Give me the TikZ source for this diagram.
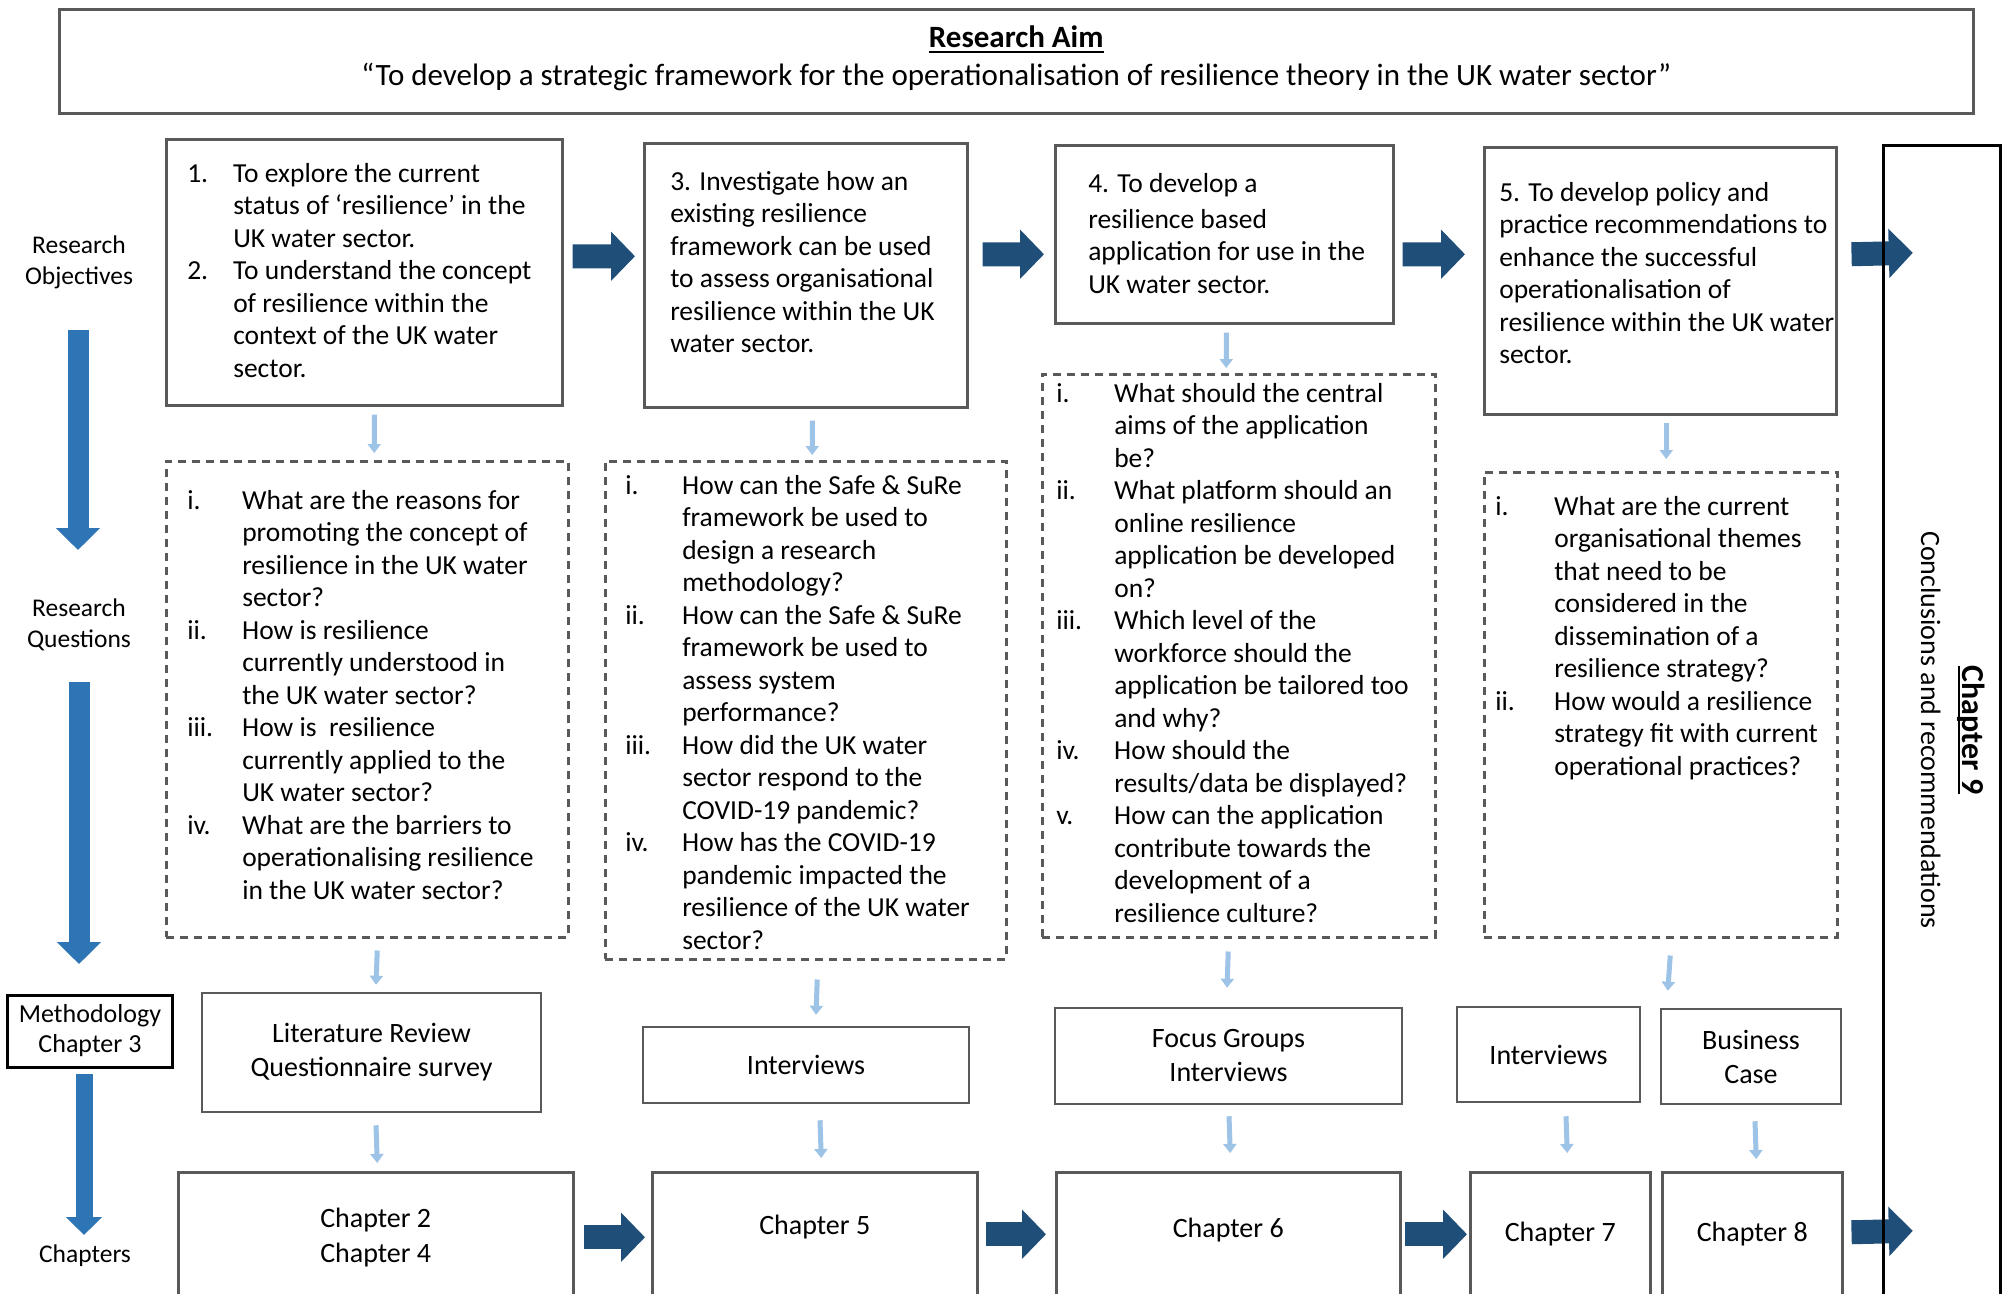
\documentclass[tikz,border=0pt]{standalone}
\usepackage{fontspec}
\setmainfont{Carlito}
\usetikzlibrary{arrows.meta,calc}

\definecolor{darkarrow}{RGB}{31,78,121}
\definecolor{midarrow}{RGB}{46,117,182}
\definecolor{litearrow}{RGB}{157,195,230}
\definecolor{boxgray}{RGB}{89,89,89}

% hanging list item: label in a fixed-width slot, wrapped lines indented
\newlength\qind
\newcommand\qitem[2]{\par\hangindent=\qind\hangafter=1\noindent\strut\makebox[\qind][l]{#1}#2}
% fixed-size text panel: width, height, left pad, top pad, content
\newcommand\panel[5]{\parbox[c][#2][t]{#1}{\vspace*{#4}\parindent=0pt\leftskip=#3\relax\rightskip=-300bp plus 1fil\relax #5\par}}
% underline drawn just below the baseline
\newcommand\ulined[1]{\setbox0=\hbox{#1}\rlap{\rule[-5bp]{\wd0}{2bp}}\box0}

\tikzset{
  every node/.style={font=\fontsize{27.5bp}{32.5bp}\selectfont},
  box/.style={draw=boxgray, line width=2.5bp, inner sep=0pt, anchor=north west},
  qbox/.style={box, dash pattern=on 8bp off 6bp},
  chbox/.style={box, font=\fontsize{28bp}{32.5bp}\selectfont},
  mbox/.style={draw=boxgray, line width=2.5bp, inner sep=0pt, align=center,
               font=\fontsize{28bp}{34bp}\selectfont},
  sidelabel/.style={align=center, font=\fontsize{25.5bp}{31bp}\selectfont},
  darkarr/.style={draw=darkarrow, line width=24bp, -{Triangle[width=48bp,length=24bp]}},
  midarr/.style={draw=midarrow, line width=21bp, -{Triangle[width=43bp,length=22bp]}},
  midarrs/.style={draw=midarrow, line width=17bp, -{Triangle[width=35bp,length=18bp]}},
  litearr/.style={draw=litearrow, line width=5bp, -{Triangle[width=13bp,length=9bp]}},
}

\begin{document}
\begin{tikzpicture}[x=1bp, y=-1bp]
\useasboundingbox (0,0) rectangle (2008,1293);
\fill[white] (0,0) rectangle (2008,1293);
\clip (0,0) rectangle (2008,1293);

% ---- research aim ----
\node[box] (aim) at (58,8) {\panel{1914bp}{104bp}{0bp}{12bp}{\fontsize{31bp}{38bp}\selectfont\centering\strut\textbf{\ulined{Research Aim}}\\“To develop a strategic framework for the operationalisation of resilience theory in the UK water sector”}};

% ---- row labels and side arrows ----
\node[sidelabel] (robj) at (79,262) {Research\\Objectives};
\node[sidelabel] (rq) at (79,624.5) {Research\\Questions};
\node[draw=black, line width=3bp, minimum width=164bp, minimum height=72bp, inner sep=0pt,
      align=center, font=\fontsize{26bp}{30bp}\selectfont] (meth) at (90,1031) {Methodology\\Chapter 3};
\node[sidelabel] (chs) at (85,1256) {Chapters};

\draw[midarr] ([shift={(-1,68)}]robj.center) -- ([shift={(-1,-74.5)}]rq.center);
\draw[midarr] ([shift={(0,57.5)}]rq.center) -- ([shift={(-11,-67)}]meth.center);
\draw[midarrs] ([shift={(-6,43)}]meth.center) -- ([shift={(-1,-21)}]chs.center);

% ---- objectives ----
\node[box] (o1) at (165,138) {\panel{396bp}{266bp}{21bp}{20bp}{\setlength\qind{46bp}%
  \qitem{1.}{To explore the current\\status of ‘resilience’ in the\\UK water sector.}%
  \qitem{2.}{To understand the concept\\of resilience within the\\context of the UK water\\sector.}}};
\node[box] (o2) at (643,142) {\panel{323bp}{264bp}{26bp}{24bp}{\strut 3. Investigate how an\\existing resilience\\framework can be used\\to assess organisational\\resilience within the UK\\water sector.}};
\node[box] (o3) at (1054,144) {\panel{338bp}{178bp}{33bp}{24bp}{\strut 4. To develop a\\[3.5bp]resilience based\\application for use in the\\UK water sector.}};
\node[box] (o4) at (1483,146) {\panel{352bp}{267bp}{15bp}{31bp}{\strut 5. To develop policy and\\practice recommendations to\\enhance the successful\\operationalisation of\\resilience within the UK water\\sector.}};

% ---- research questions ----
\node[qbox] (q1) at (165,460) {\panel{402bp}{476bp}{21bp}{25bp}{\setlength\qind{55bp}%
  \qitem{i.}{What are the reasons for\\promoting the concept of\\resilience in the UK water\\sector?}%
  \qitem{ii.}{How is resilience\\currently understood in\\the UK water sector?}%
  \qitem{iii.}{How is \ resilience\\currently applied to the\\UK water sector?}%
  \qitem{iv.}{What are the barriers to\\operationalising resilience\\in the UK water sector?}}};
\node[qbox] (q2) at (604,460) {\panel{401bp}{498bp}{20bp}{10bp}{\setlength\qind{57bp}%
  \qitem{i.}{How can the Safe \& SuRe\\framework be used to\\design a research\\methodology?}%
  \qitem{ii.}{How can the Safe \& SuRe\\framework be used to\\assess system\\performance?}%
  \qitem{iii.}{How did the UK water\\sector respond to the\\COVID-19 pandemic?}%
  \qitem{iv.}{How has the COVID-19\\pandemic impacted the\\resilience of the UK water\\sector?}}};
\node[qbox] (q3) at (1041,373) {\panel{393bp}{563bp}{14bp}{5bp}{\setlength\qind{58bp}%
  \qitem{i.}{What should the central\\aims of the application\\be?}%
  \qitem{ii.}{What platform should an\\online resilience\\application be developed\\on?}%
  \qitem{iii.}{Which level of the\\workforce should the\\application be tailored too\\and why?}%
  \qitem{iv.}{How should the\\results/data be displayed?}%
  \qitem{v.}{How can the application\\contribute towards the\\development of a\\resilience culture?}}};
\node[qbox] (q4) at (1483,471) {\panel{353bp}{465bp}{11bp}{20bp}{\setlength\qind{59bp}%
  \qitem{i.}{What are the current\\organisational themes\\that need to be\\considered in the\\dissemination of a\\resilience strategy?}%
  \qitem{ii.}{How would a resilience\\strategy fit with current\\operational practices?}}};

% ---- methods ----
\node[mbox, minimum width=339bp, minimum height=119bp] (m1) at (371.5,1052.5) {Literature Review\\Questionnaire survey};
\node[mbox, minimum width=326bp, minimum height=76bp] (m2) at (806,1065) {Interviews};
\node[mbox, minimum width=347bp, minimum height=96bp] (m3) at (1228.5,1056) {Focus Groups\\Interviews};
\node[mbox, minimum width=183bp, minimum height=95bp] (m4) at (1548.5,1054.5) {Interviews};
\node[mbox, minimum width=180bp, minimum height=95bp] (m5) at (1751,1056.5) {Business\\Case};

% ---- thesis chapters (open towards the bottom edge) ----
\node[chbox] (c1) at (177,1171) {\panel{395bp}{169bp}{0bp}{32bp}{\centering\strut Chapter 2\\[2.5bp]Chapter 4}};
\node[chbox] (c2) at (651,1171) {\panel{325bp}{169bp}{0bp}{39bp}{\centering\strut Chapter 5}};
\node[chbox] (c3) at (1055,1171) {\panel{344bp}{169bp}{0bp}{42bp}{\centering\strut Chapter 6}};
\node[chbox] (c4) at (1469,1171) {\panel{180bp}{169bp}{0bp}{46bp}{\centering\strut Chapter 7}};
\node[chbox] (c5) at (1661,1171) {\panel{180bp}{169bp}{0bp}{46bp}{\centering\strut Chapter 8}};

% ---- conclusions column ----
\node[inner sep=0pt, minimum width=116bp, minimum height=1168bp] (ch9) at (1942,730) {};
\node[rotate=-90, align=center, font=\fontsize{28bp}{32.5bp}\selectfont] (ch9t) at (1953,730)
  {{\fontsize{32bp}{32.5bp}\selectfont\textbf{\ulined{Chapter 9}}}\\[9bp]Conclusions and recommendations};

% ---- flow between columns ----
\draw[darkarr] ([shift={(9,-16)}]o1.east) -- ([shift={(-8,-19)}]o2.west);
\draw[darkarr] ([shift={(14,-21)}]o2.east) -- ([shift={(-10,20)}]o3.west);
\draw[darkarr] ([shift={(8,20)}]o3.east) -- ([shift={(-18,-26.5)}]o4.west);
\draw[darkarr] ([shift={(14,-26.5)}]o4.east) -- ([shift={(29,107)}]ch9.north west);

\draw[darkarr] ([shift={(9,-19.5)}]c1.east) -- ([shift={(-6,-19.5)}]c2.west);
\draw[darkarr] ([shift={(7,-22.5)}]c2.east) -- ([shift={(-9,-22.5)}]c3.west);
\draw[darkarr] ([shift={(3,-22.5)}]c3.east) -- ([shift={(-2,-22.5)}]c4.west);
\draw[darkarr] ([shift={(8,-24.5)}]c5.east) -- ([shift={(29,1085)}]ch9.north west);

\draw[black, line width=3bp] (ch9.north west) rectangle (ch9.south east);

% ---- flow down each column ----
\draw[litearr] ([shift={(10,8)}]o1.south) -- ([shift={(7,-7)}]q1.north);
\draw[litearr] ([shift={(6.5,12)}]o2.south) -- ([shift={(6.5,-5)}]q2.north);
\draw[litearr] ([shift={(2,8)}]o3.south) -- ([shift={(-12.5,-5)}]q3.north);
\draw[litearr] ([shift={(6,7)}]o4.south) -- ([shift={(5.5,-12)}]q4.north);

\draw[litearr] ([shift={(10,12)}]q1.south) -- ([shift={(4.5,-7)}]m1.north);
\draw[litearr] ([shift={(11.5,19)}]q2.south) -- ([shift={(10,-11)}]m2.north);
\draw[litearr] ([shift={(-10.5,13)}]q3.south) -- ([shift={(-1.5,-19)}]m3.north);
\draw[litearr] ([shift={(9.5,17)}]q4.south) -- ([shift={(8,-17)}]m5.north west);

\draw[litearr] ([shift={(4.5,12)}]m1.south) -- ([shift={(1.5,-8)}]c1.north);
\draw[litearr] ([shift={(14,16)}]m2.south) -- ([shift={(6.5,-13)}]c2.north);
\draw[litearr] ([shift={(0.5,11)}]m3.south) -- ([shift={(2,-18)}]c3.north);
\draw[litearr] ([shift={(17.5,13)}]m4.south) -- ([shift={(7,-18)}]c4.north);
\draw[litearr] ([shift={(4,16)}]m5.south) -- ([shift={(4,-12)}]c5.north);
\end{tikzpicture}
\end{document}
